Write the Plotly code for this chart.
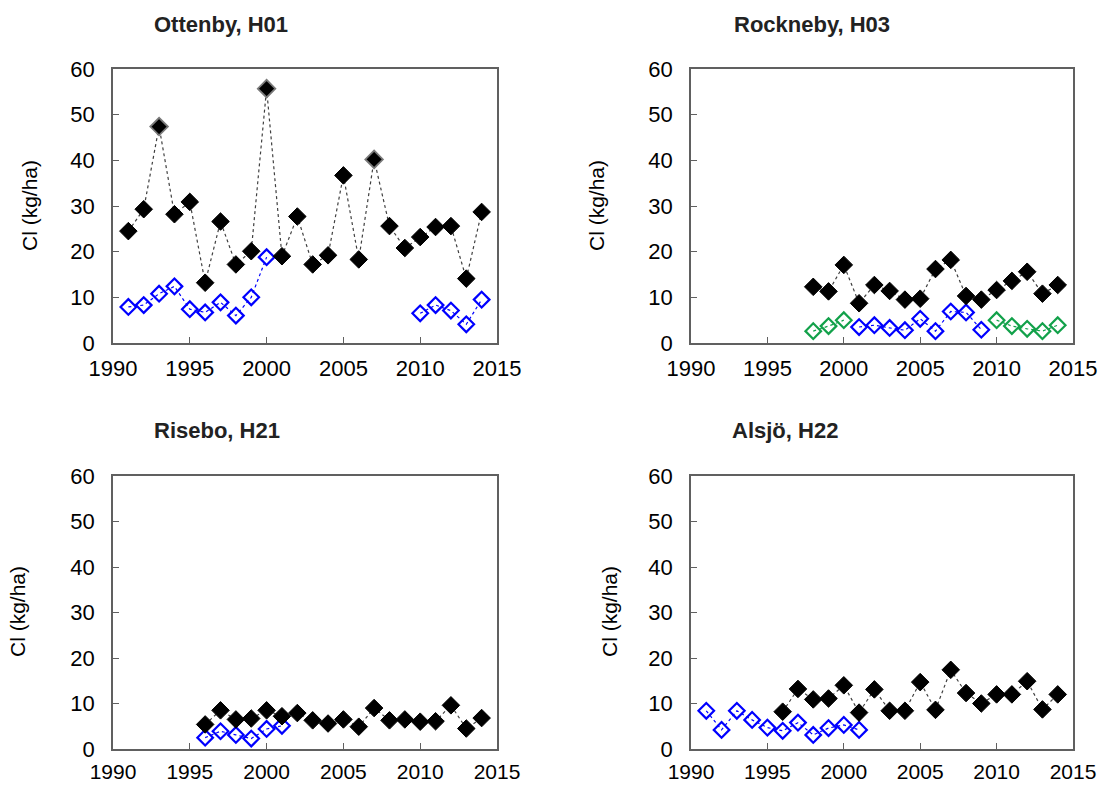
import plotly.graph_objects as go

# ---------------- data ----------------
# Ottenby, H01
ott_years = list(range(1991, 2015))
ott_black = [24.5, 29.3, 47.4, 28.2, 30.9, 13.2, 26.6, 17.2, 20.1, 55.7, 19.0, 27.7,
             17.2, 19.2, 36.7, 18.3, 40.2, 25.6, 20.8, 23.2, 25.4, 25.6, 14.1, 28.7]
ott_blue = [7.9, 8.3, 10.8, 12.4, 7.4, 6.7, 8.9, 6.0, 10.0, 18.8,
            None, None, None, None, None, None, None, None, None,
            6.5, 8.3, 7.1, 4.1, 9.5]
ott_outlined = [1993, 2000, 2007]

# Rockneby, H03
roc_years = list(range(1998, 2015))
roc_black = [12.3, 11.3, 17.1, 8.7, 12.7, 11.4, 9.5, 9.7, 16.2, 18.2, 10.3, 9.5,
             11.6, 13.6, 15.6, 10.8, 12.7]
roc_blue = [None, None, None, 3.5, 3.9, 3.3, 2.8, 5.3, 2.6, 6.9, 6.7, 2.9,
            None, None, None, None, None]
roc_green = [2.6, 3.7, 5.0, None, None, None, None, None, None, None, None, None,
             5.0, 3.7, 3.1, 2.6, 3.9]

# Risebo, H21
ris_years = list(range(1996, 2015))
ris_black = [5.4, 8.5, 6.5, 6.7, 8.5, 7.2, 7.9, 6.3, 5.6, 6.5, 4.9, 9.0, 6.3, 6.5,
             6.0, 6.1, 9.6, 4.5, 6.8]
ris_blue = [2.5, 3.9, 3.1, 2.3, 4.4, 5.1] + [None] * 13

# Alsjö, H22
als_years = list(range(1991, 2015))
als_black = [None] * 5 + [8.2, 13.2, 10.9, 11.1, 14.0, 8.0, 13.1, 8.4, 8.4, 14.7, 8.6,
                          17.4, 12.3, 10.0, 12.0, 12.0, 14.9, 8.7, 12.0]
als_blue = [8.4, 4.2, 8.4, 6.4, 4.7, 4.0, 5.8, 3.1, 4.6, 5.3, 4.2] + [None] * 13

titles = ["Ottenby, H01", "Rockneby, H03", "Risebo, H21", "Alsjö, H22"]
y_title = "Cl (kg/ha)"
x_ticks = [1990, 1995, 2000, 2005, 2010, 2015]
y_ticks = [0, 10, 20, 30, 40, 50, 60]

# ---------------- styles ----------------
W, H = 1101, 785
FONT = "Liberation Sans, Arial, sans-serif"
BLACK = "#000000"
BLUE = "#0000FF"
GREEN = "#12A14A"
LINE_BLACK = "#404040"

def px_x(p):
    return p / W

def px_y(p):
    return 1 - p / H

panels = [
    # (x0, x1, ytop, ybottom) in pixels
    (113, 497, 69, 343),
    (691, 1073, 69, 343),
    (113, 497, 476, 749),
    (691, 1073, 476, 749),
]

fig = go.Figure()


def black_trace(x, y, ax, line_colors=None, line_widths=None):
    return go.Scatter(
        x=x, y=y, xaxis=ax[0], yaxis=ax[1], mode="lines+markers",
        line=dict(color=LINE_BLACK, width=1.2, dash="dot"),
        marker=dict(symbol="diamond", size=13.5, color=BLACK,
                    line=dict(color=line_colors if line_colors else BLACK,
                              width=line_widths if line_widths else 1)),
        connectgaps=False, showlegend=False, hoverinfo="x+y")


def open_trace(x, y, ax, color):
    return go.Scatter(
        x=x, y=y, xaxis=ax[0], yaxis=ax[1], mode="lines+markers",
        line=dict(color=color, width=1.2, dash="dot"),
        marker=dict(symbol="diamond-open", size=12, color=color,
                    line=dict(color=color, width=2.2)),
        connectgaps=False, showlegend=False, hoverinfo="x+y")


axes = [("x", "y"), ("x2", "y2"), ("x3", "y3"), ("x4", "y4")]

# Panel 1
fig.add_trace(open_trace(ott_years, ott_blue, axes[0], BLUE))
lc = ["#7a7a7a" if yr in ott_outlined else BLACK for yr in ott_years]
lw = [1.8 if yr in ott_outlined else 1 for yr in ott_years]
fig.add_trace(black_trace(ott_years, ott_black, axes[0], lc, lw))

# Panel 2
fig.add_trace(open_trace(roc_years, roc_green, axes[1], GREEN))
fig.add_trace(open_trace(roc_years, roc_blue, axes[1], BLUE))
fig.add_trace(black_trace(roc_years, roc_black, axes[1]))

# Panel 3
fig.add_trace(open_trace(ris_years, ris_blue, axes[2], BLUE))
fig.add_trace(black_trace(ris_years, ris_black, axes[2]))

# Panel 4
fig.add_trace(open_trace(als_years, als_blue, axes[3], BLUE))
fig.add_trace(black_trace(als_years, als_black, axes[3]))

axis_common = dict(
    showline=True, linecolor="#606060", linewidth=1.5, mirror=True,
    ticks="inside", ticklen=6, tickcolor="#606060", tickwidth=1.2,
    showgrid=False, zeroline=False, automargin=False,
    tickfont=dict(family=FONT, size=22, color="#000000"),
)

layout = dict(
    width=W, height=H, margin=dict(l=0, r=0, t=0, b=0, pad=0, autoexpand=False),
    paper_bgcolor="white", plot_bgcolor="white",
    font=dict(family=FONT, color="#000000"),
    showlegend=False,
)

for i, (x0, x1, yt, yb) in enumerate(panels):
    n = "" if i == 0 else str(i + 1)
    bottom_row = i >= 2
    layout["xaxis" + n] = dict(
        axis_common, domain=[px_x(x0), px_x(x1)], anchor="y" + n,
        range=[1990, 2015], tickvals=x_ticks,
        ticklabelstandoff=3 if bottom_row else 5,
        tickfont=dict(family=FONT, size=21 if bottom_row else 22, color="#000000"))
    layout["yaxis" + n] = dict(
        axis_common, domain=[px_y(yb), px_y(yt)], anchor="x" + n,
        range=[0, 60], tickvals=y_ticks, ticklabelstandoff=12)

fig.update_layout(**layout)

# Titles
title_pos = [(221, 25), (812, 25), (217, 430), (785, 430)]
for t, (cx, cy) in zip(titles, title_pos):
    fig.add_annotation(
        text="<b>%s</b>" % t, x=px_x(cx), y=px_y(cy), xref="paper", yref="paper",
        xanchor="center", yanchor="middle", showarrow=False,
        font=dict(family=FONT, size=22, color="#222222"))

# Y axis titles
ytitle_pos = [(30, 206), (597, 206), (17, 612), (609, 612)]
for (cx, cy) in ytitle_pos:
    fig.add_annotation(
        text=y_title, x=px_x(cx), y=px_y(cy), xref="paper", yref="paper",
        xanchor="center", yanchor="middle", showarrow=False, textangle=-90,
        font=dict(family=FONT, size=21, color="#000000"))

fig.write_html("out.html")
